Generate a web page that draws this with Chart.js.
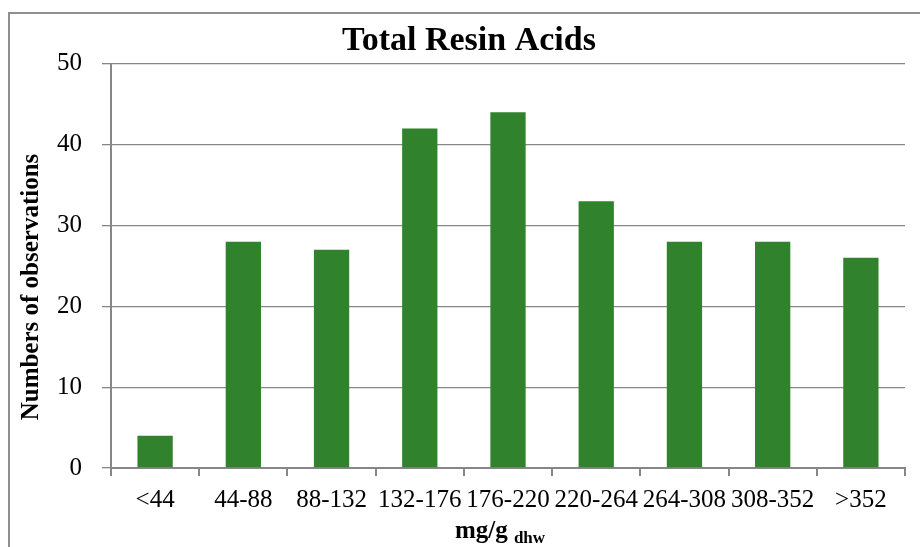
<!DOCTYPE html>
<html>
<head>
<meta charset="utf-8">
<title>Total Resin Acids</title>
<script src="https://cdn.jsdelivr.net/npm/chart.js@4/dist/chart.umd.min.js"></script>
<style>
  html, body { margin: 0; padding: 0; background: #fff; }
</style>
</head>
<body>
<canvas id="myChart" width="920" height="547"></canvas>
<script>
const categories = ['<44', '44-88', '88-132', '132-176', '176-220', '220-264', '264-308', '308-352', '>352'];
const observations = [4, 28, 27, 42, 44, 33, 28, 28, 26];
const yMin = 0;
const yMax = 50;
const yStep = 10;
const chartTitle = 'Total Resin Acids';
const yTitle = 'Numbers of observations';
const xTitleMain = 'mg/g';
const xTitleSub = 'dhw';

const serif = '"Liberation Serif", "Times New Roman", serif';
const gray = '#878787';

// frame lines + axis titles (x title needs a subscript, so drawn by hand)
const extras = {
    id: 'extras',
    beforeDraw(chart) {
        const c = chart.ctx;
        c.save();
        c.strokeStyle = '#8f8f8f';
        c.lineWidth = 2;
        c.beginPath();
        c.moveTo(9, chart.height);
        c.lineTo(9, 13);
        c.lineTo(chart.width, 13);
        c.stroke();
        c.restore();
    },
    afterDraw(chart) {
        const c = chart.ctx;
        c.save();
        c.fillStyle = '#000';
        c.font = 'bold 25px ' + serif;
        c.textAlign = 'center';
        c.textBaseline = 'middle';
        c.translate(32, 287);
        c.rotate(-Math.PI / 2);
        c.fillText(yTitle, 0, 0);
        c.restore();

        c.save();
        c.fillStyle = '#000';
        c.textBaseline = 'alphabetic';
        c.font = 'bold 25px ' + serif;
        const w1 = c.measureText(xTitleMain + ' ').width;
        c.font = 'bold 17px ' + serif;
        const w2 = c.measureText(xTitleSub).width;
        const x0 = 500 - (w1 + w2) / 2;
        c.font = 'bold 25px ' + serif;
        c.textAlign = 'left';
        c.fillText(xTitleMain, x0, 538);
        c.font = 'bold 17px ' + serif;
        c.fillText(xTitleSub, x0 + w1, 543);
        c.restore();
    }
};

const ctx = document.getElementById('myChart').getContext('2d');
const myChart = new Chart(ctx, {
    type: 'bar',
    data: {
        labels: categories,
        datasets: [{
            label: yTitle,
            data: observations,
            backgroundColor: '#31822C',
            borderWidth: 0,
            barPercentage: 0.4,
            categoryPercentage: 1.0
        }]
    },
    options: {
        responsive: false,
        animation: false,
        layout: {
            padding: { left: 33, right: 15, top: 0, bottom: 0 }
        },
        plugins: {
            legend: { display: false },
            tooltip: { enabled: false },
            title: {
                display: true,
                text: chartTitle,
                color: '#000',
                font: { family: serif, size: 34, weight: 'bold' },
                padding: { top: 21, bottom: 2 }
            }
        },
        scales: {
            x: {
                afterFit: (s) => { s.height = 79; },
                grid: {
                    offset: true,
                    drawOnChartArea: false,
                    drawTicks: true,
                    tickLength: 8,
                    color: gray,
                    lineWidth: 2
                },
                border: { color: gray, width: 2 },
                ticks: {
                    color: '#000',
                    font: { family: serif, size: 25 },
                    padding: 9,
                    maxRotation: 0,
                    autoSkip: false
                }
            },
            y: {
                min: yMin,
                max: yMax,
                afterFit: (s) => { s.width = 78; },
                grid: {
                    color: gray,
                    lineWidth: 1.3,
                    drawTicks: true,
                    tickLength: 9
                },
                border: { color: gray, width: 2 },
                ticks: {
                    stepSize: yStep,
                    color: '#000',
                    font: { family: serif, size: 25 },
                    padding: 20
                }
            }
        }
    },
    plugins: [extras]
});
</script>
</body>
</html>
